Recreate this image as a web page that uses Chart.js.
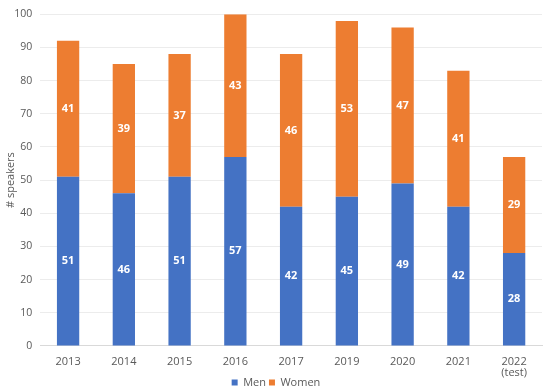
<!DOCTYPE html>
<html>
<head>
<meta charset="utf-8">
<script src="https://cdn.jsdelivr.net/npm/chart.js@4"></script>
<style>
  html, body { margin: 0; padding: 0; background: #fff; }
  #wrap { width: 550px; height: 390px; }
</style>
</head>
<body>
<div id="wrap"><canvas id="speakersChart"></canvas></div>
<script>
const years = ["2013", "2014", "2015", "2016", "2017", "2019", "2020", "2021", ["2022", "(test)"]];
const men = [51, 46, 51, 57, 42, 45, 49, 42, 28];
const women = [41, 39, 37, 43, 46, 53, 47, 41, 29];

const fontFamily = "'Open Sans', 'Liberation Sans', sans-serif";

// white bold numbers in the middle of each segment
const barLabels = {
    id: "barLabels",
    afterDatasetsDraw(chart) {
        const ctx = chart.ctx;
        ctx.save();
        ctx.fillStyle = "#ffffff";
        ctx.font = "bold 11px " + fontFamily;
        ctx.textAlign = "center";
        ctx.textBaseline = "middle";
        chart.data.datasets.forEach((ds, i) => {
            const meta = chart.getDatasetMeta(i);
            meta.data.forEach((bar, j) => {
                const mid = (bar.y + bar.base) / 2;
                ctx.fillText(ds.data[j], bar.x, mid);
            });
        });
        ctx.restore();
    }
};

// legend sits right under the tick labels, like the original
const legendNudge = {
    id: "legendNudge",
    afterLayout(chart) {
        const lg = chart.legend;
        if (!lg) return;
        lg.top -= 15;
        lg.bottom -= 15;
        lg.left += 5;
        lg.right += 5;
    }
};

function renderChart() {
    const ctx = document.getElementById("speakersChart").getContext("2d");

    new Chart(ctx, {
        type: "bar",
        data: {
            labels: years,
            datasets: [
                {
                    label: "Men",
                    data: men,
                    backgroundColor: "#4472C4",
                    barPercentage: 0.8,
                    categoryPercentage: 0.5
                },
                {
                    label: "Women",
                    data: women,
                    backgroundColor: "#ED7D31",
                    barPercentage: 0.8,
                    categoryPercentage: 0.5
                }
            ]
        },
        options: {
            responsive: true,
            maintainAspectRatio: false,
            animation: false,
            layout: { padding: { top: 7, right: 8, left: 0, bottom: -23 } },
            scales: {
                x: {
                    stacked: true,
                    grid: { display: false, drawTicks: false },
                    border: { color: "#d9d9d9" },
                    ticks: {
                        padding: 10,
                        color: "#595959",
                        font: { family: fontFamily, size: 11, lineHeight: 1.05 },
                        maxRotation: 0
                    }
                },
                y: {
                    stacked: true,
                    min: 0,
                    max: 100,
                    ticks: {
                        stepSize: 10,
                        padding: 8,
                        color: "#595959",
                        font: { family: fontFamily, size: 10.5 }
                    },
                    grid: { color: "#ececec", drawTicks: false },
                    border: { display: false },
                    title: {
                        display: true,
                        text: "# speakers",
                        color: "#595959",
                        font: { family: fontFamily, size: 11 },
                        padding: { top: 4, bottom: 1 }
                    },
                    afterFit(scale) { scale.width -= 12; }
                }
            },
            plugins: {
                legend: {
                    position: "bottom",
                    labels: {
                        boxWidth: 6,
                        boxHeight: 6,
                        padding: 3,
                        color: "#595959",
                        font: { family: fontFamily, size: 11 }
                    }
                },
                tooltip: { enabled: false }
            }
        },
        plugins: [barLabels, legendNudge]
    });
}

document.addEventListener("DOMContentLoaded", () => {
    renderChart();
});
</script>
</body>
</html>
